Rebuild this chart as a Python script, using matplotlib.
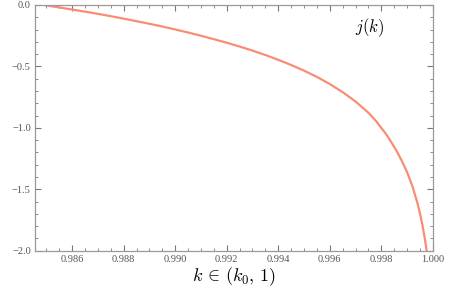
# Import libraries
import matplotlib
matplotlib.use("Agg")
import matplotlib.pyplot as plt
from matplotlib.ticker import MultipleLocator, FuncFormatter

k_vals = [0.9849, 0.9855, 0.9860, 0.9865, 0.9870, 0.9875, 0.9880, 0.9885,
          0.9890, 0.9895, 0.9900, 0.9905, 0.9910, 0.9915, 0.9920, 0.9925,
          0.9930, 0.9935, 0.9940, 0.9945, 0.9950, 0.9955, 0.9960, 0.9965,
          0.9970, 0.9975, 0.9978, 0.9980, 0.9982, 0.9984, 0.9986, 0.9988,
          0.9990, 0.9992, 0.9993, 0.9994, 0.9995, 0.9996, 0.9997, 0.99976,
          0.9998]
j_vals = [0.0, -0.020, -0.037, -0.054, -0.072, -0.091, -0.111, -0.132,
          -0.153, -0.175, -0.199, -0.224, -0.250, -0.278, -0.307, -0.338,
          -0.371, -0.407, -0.446, -0.488, -0.534, -0.585, -0.643, -0.709,
          -0.785, -0.877, -0.945, -1.000, -1.055, -1.120, -1.190, -1.270,
          -1.360, -1.470, -1.540, -1.610, -1.695, -1.795, -1.915, -2.0,
          -2.06]

x_range = (0.98456, 1.0)
y_range = (-2.0, 0.0)

tick_gray = "#777777"
line_color = "#FA8C76"

plt.rcParams["mathtext.fontset"] = "cm"

fig = plt.figure(figsize=(4.59, 2.94), dpi=100)
ax = fig.add_axes([0.0763, 0.147, 0.8667, 0.836])

# Curve
ax.plot(k_vals, j_vals, color=line_color, lw=1.6, solid_capstyle="butt")

ax.set_xlim(*x_range)
ax.set_ylim(*y_range)

# Mathematica-style frame with inward ticks on every side
ax.xaxis.set_major_locator(MultipleLocator(0.002))
ax.xaxis.set_minor_locator(MultipleLocator(0.0005))
ax.yaxis.set_major_locator(MultipleLocator(0.5))
ax.yaxis.set_minor_locator(MultipleLocator(0.1))
ax.xaxis.set_major_formatter(FuncFormatter(lambda v, p: f"{v:.3f}"))
ax.yaxis.set_major_formatter(
    FuncFormatter(lambda v, p: f"{v:.1f}".replace("-", "\u2212")))

ax.tick_params(which="both", direction="in", top=True, right=True,
               color=tick_gray, labelcolor="#555555", labelsize=7.5)
ax.tick_params(which="major", length=4, width=0.8, pad=3)
ax.tick_params(which="minor", length=2, width=0.6)
for lab in ax.get_xticklabels() + ax.get_yticklabels():
    lab.set_fontfamily("Liberation Serif")

for side in ax.spines.values():
    side.set_color("#999999")
    side.set_linewidth(0.9)

# Labels
ax.set_xlabel(r"$k \,\in\, (k_0,\, 1)$", fontsize=13, labelpad=1)
ax.text(0.99756, -0.187, r"$j(k)$", fontsize=12, ha="center", va="center")

fig.savefig("out.png", dpi=100)
